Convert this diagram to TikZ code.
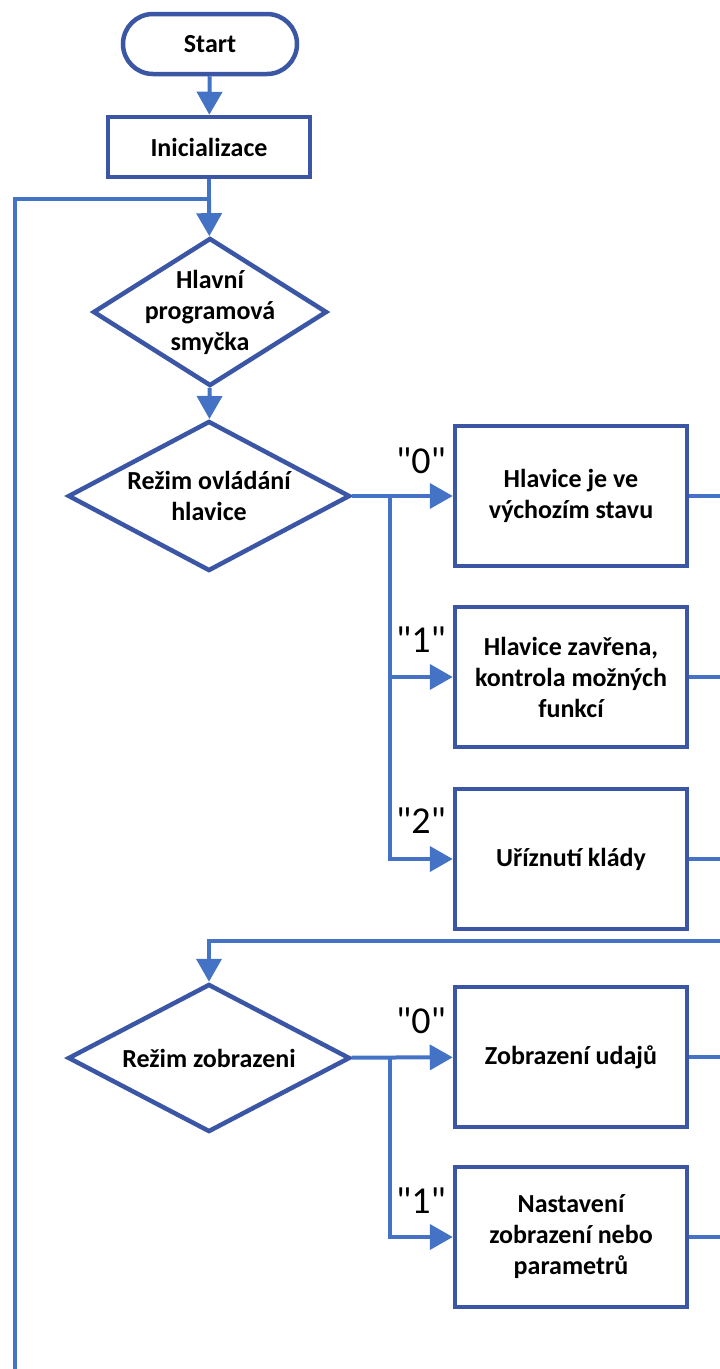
\documentclass[tikz,border=0pt]{standalone}
\usepackage{fontspec}
\setmainfont{Carlito}
\newfontfamily\lblfont[Ligatures=TeXOff]{Carlito}
\usetikzlibrary{shapes.geometric,arrows.meta}
\definecolor{boxblue}{HTML}{3A56A5}
\definecolor{lineblue}{HTML}{4472C4}
\tikzset{
  every node/.style={font=\fontsize{26}{31}\selectfont\bfseries, text=black},
  term/.style={draw=boxblue, line width=4.5pt, rounded corners=30pt, minimum width=174pt, minimum height=60pt, fill=white},
  proc/.style={draw=boxblue, line width=4.5pt, minimum width=202pt, minimum height=60pt, fill=white},
  bigproc/.style={draw=boxblue, line width=4.5pt, minimum width=232pt, minimum height=140pt, align=center, fill=white},
  decis/.style={draw=boxblue, line width=4.5pt, diamond, aspect=2, inner sep=0pt, fill=white},
  dtext/.style={label={[align=center, inner sep=0pt]center:#1}},
  conn/.style={draw=lineblue, line width=4pt},
  arr/.style={conn, -{Triangle[length=23pt,width=25pt]}},
  lbl/.style={font=\fontsize{38}{38}\selectfont\lblfont, inner sep=1pt},
}
\begin{document}
\begin{tikzpicture}[x=1pt,y=-1pt]
\useasboundingbox (0,0) rectangle (720,1369);
% nodes
\node[term] (start) at (210,44) {Start};
\node[proc] (init) at (209,147) {Inicializace};
\node[decis, minimum width=234pt, minimum height=148pt, dtext={Hlavní\\programová\\smyčka}] (d1) at (210,312) {};
\node[decis, minimum width=282pt, minimum height=150pt, dtext={Režim ovládání\\hlavice}] (d2) at (209,496) {};
\node[bigproc] (bA) at (571,496) {Hlavice je ve\\výchozím stavu};
\node[bigproc] (bB) at (571,677) {Hlavice zavřena,\\kontrola možných\\funkcí};
\node[bigproc] (bC) at (571,859) {Uříznutí klády};
\node[decis, minimum width=282pt, minimum height=148pt, dtext={Režim zobrazeni}] (d3) at (209,1058) {};
\node[bigproc] (bD) at (571,1057) {Zobrazení udajů};
\node[bigproc] (bE) at (571,1237) {Nastavení\\zobrazení nebo\\parametrů};
% labels
\node[lbl] (l0) at (421,461) {"0"};
\node[lbl] (l1) at (421,640) {"1"};
\node[lbl] (l2) at (421,821) {"2"};
\node[lbl] (l3) at (421,1021) {"0"};
\node[lbl] (l4) at (421,1201) {"1"};
% coordinates
\coordinate (j1) at (209,199);
\coordinate (lt) at (15,199);
\coordinate (lb) at (15,1369);
\coordinate (s1) at (390,496);
\coordinate (s2) at (390,1057);
\coordinate (rA) at (720,496);
\coordinate (rB) at (720,677);
\coordinate (rC) at (720,859);
\coordinate (rD) at (720,1057);
\coordinate (rE) at (720,1237);
\coordinate (rl) at (720,941);
\coordinate (j2) at (209,941);
% connectors
\draw[arr] (start) -- (init);
\draw[conn] (init) -- (j1);
\draw[conn] (j1) -- (lt) -- (lb);
\draw[arr] (j1) -- (d1);
\draw[arr] (d1) -- (d2);
\draw[arr] (d2) -- (bA);
\draw[arr] (s1) |- (bB.west);
\draw[arr] (s1) |- (bC.west);
\draw[conn] (bA) -- (rA);
\draw[conn] (bB) -- (rB);
\draw[conn] (bC) -- (rC);
\draw[arr] (rl) -- (j2) -- (d3);
\draw[arr] (d3) -- (bD);
\draw[arr] (s2) |- (bE.west);
\draw[conn] (bD) -- (rD);
\draw[conn] (bE) -- (rE);
\end{tikzpicture}
\end{document}
